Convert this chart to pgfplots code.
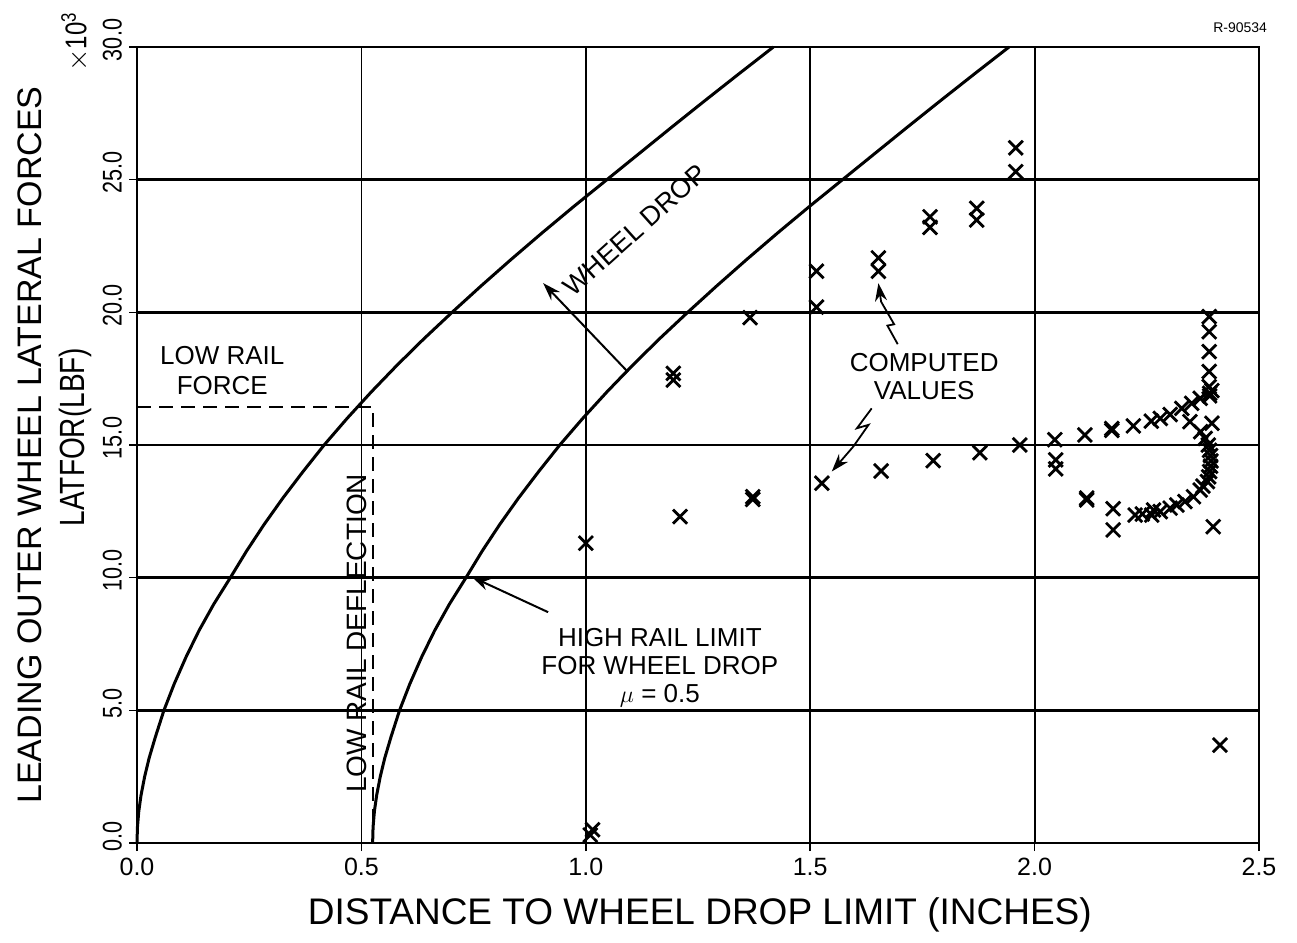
\documentclass[border=0pt]{standalone}
\usepackage{pgfplots}
\pgfplotsset{compat=1.18}
\usepackage{fontspec}
\setmainfont{Liberation Sans}
\newfontfamily\condfont[FakeStretch=0.8]{Liberation Sans}
\usetikzlibrary{arrows.meta}
\begin{document}
\begin{tikzpicture}
\begin{axis}[
  scale only axis, width=561pt, height=398pt,
  xmin=0, xmax=2.5, ymin=0, ymax=30,
  xtick={0,0.5,1,1.5,2,2.5}, ytick={0,5,10,15,20,25,30},
  xtick pos=bottom, ytick pos=left,
  grid=major, major x grid style={black, line width=0.9pt}, major y grid style={black, line width=1.2pt},
  axis line style={black, line width=1.1pt},
  tick align=outside, major tick length=4pt, tick style={black, line width=0.8pt},
  /pgf/number format/assume math mode=true,
  x tick label style={font=\fontsize{12.5}{12.5}\selectfont, /pgf/number format/.cd, fixed, fixed zerofill, precision=1, /tikz/.cd},
  y tick label style={yshift=3.5pt, rotate=90, anchor=south, font=\condfont\fontsize{13.5}{13.5}\selectfont, /pgf/number format/.cd, fixed, fixed zerofill, precision=1, /tikz/.cd},
  clip=false,
]
% wheel drop (left) curve
\addplot[black, line width=1.5pt] coordinates {
(0,0) (0.001,0.6) (0.004,1.2) (0.009,1.8) (0.017,2.5) (0.027,3.2) (0.041,4) (0.06,5)
(0.083,6) (0.109,7) (0.138,8) (0.171,9) (0.208,10) (0.244,11) (0.283,12) (0.325,13)
(0.37,14) (0.417,15) (0.468,16) (0.522,17) (0.579,18) (0.639,19) (0.702,20) (0.767,21)
(0.834,22) (0.903,23) (0.974,24) (1.047,25) (1.12,26) (1.193,27) (1.267,28) (1.342,29) (1.418,30)};
% high rail limit (right) curve
\addplot[black, line width=1.5pt] coordinates {
(0.525,0) (0.526,0.6) (0.529,1.2) (0.534,1.8) (0.542,2.5) (0.552,3.2) (0.566,4) (0.585,5)
(0.608,6) (0.634,7) (0.663,8) (0.696,9) (0.733,10) (0.769,11) (0.808,12) (0.85,13)
(0.895,14) (0.942,15) (0.993,16) (1.047,17) (1.104,18) (1.164,19) (1.227,20) (1.292,21)
(1.359,22) (1.428,23) (1.499,24) (1.572,25) (1.645,26) (1.718,27) (1.792,28) (1.867,29) (1.943,30)};
% dashed low rail lines
\addplot[black, line width=1pt, dash pattern=on 7pt off 4pt] coordinates {(0,16.43) (0.525,16.43) (0.525,0)};
% computed values
\addplot[only marks, mark=x, mark size=5pt, line width=1.4pt, black] coordinates {
(1.0,11.3) (1.01,0.3) (1.015,0.5)
(1.195,17.7) (1.195,17.45) (1.21,12.3)
(1.366,19.8) (1.372,12.95) (1.372,13.05)
(1.514,21.55) (1.514,20.2) (1.526,13.56)
(1.652,22.05) (1.652,21.55) (1.658,14.02)
(1.767,23.6) (1.767,23.2) (1.774,14.41)
(1.871,23.92) (1.871,23.48) (1.878,14.71)
(1.958,26.2) (1.958,25.3) (1.967,15.0)
(2.045,15.2) (2.047,14.44) (2.047,14.1)
(2.112,15.38) (2.116,12.93) (2.116,13.0)
(2.172,15.55) (2.172,15.62) (2.175,12.6) (2.175,11.8)
(2.22,15.72) (2.224,12.36)
(2.26,15.9) (2.28,16.0) (2.302,16.15) (2.328,16.38) (2.35,16.57) (2.369,16.76) (2.39,16.95) (2.395,17.05) (2.39,16.85)
(2.389,19.84) (2.389,19.27) (2.389,18.52) (2.389,17.77) (2.389,17.2)
(2.395,15.82)
(2.346,15.88) (2.37,15.5) (2.38,15.25) (2.387,15.0) (2.39,14.8) (2.392,14.6) (2.393,14.4) (2.392,14.2) (2.39,14.0) (2.388,13.8) (2.385,13.62) (2.375,13.45)
(2.369,13.3) (2.354,13.05) (2.335,12.87) (2.317,12.74) (2.302,12.62) (2.28,12.49) (2.265,12.55) (2.261,12.36) (2.24,12.4)
(2.398,11.92) (2.413,3.69)};
% annotations
\node[align=center, font=\fontsize{13}{15}\selectfont] at (axis cs:0.19,17.8) {LOW RAIL\\FORCE};
\node[rotate=90, font=\fontsize{14}{15}\selectfont] at (axis cs:0.49,7.9) {LOW RAIL DEFLECTION};
\node[rotate=42, font=\fontsize{13.5}{15}\selectfont] at (axis cs:1.11,23.1) {WHEEL DROP};
\draw[black, line width=1pt, -{Stealth[length=9pt,width=6pt]}] (axis cs:1.094,17.75) -- (axis cs:0.905,21.1);
\node[align=center, font=\fontsize{13}{14}\selectfont] at (axis cs:1.165,6.6) {HIGH RAIL LIMIT\\FOR WHEEL DROP\\$\mu$ = 0.5};
\draw[black, line width=1pt, -{Stealth[length=9pt,width=6pt]}] (axis cs:0.916,8.7) -- (axis cs:0.746,10.03);
\node[align=center, font=\fontsize{13}{14}\selectfont] at (axis cs:1.754,17.57) {COMPUTED\\VALUES};
\draw[black, line width=0.9pt, -{Stealth[length=9pt,width=6pt]}] (axis cs:1.695,18.8) -- (axis cs:1.672,19.5) -- (axis cs:1.687,19.55) -- (axis cs:1.658,20.4) -- (axis cs:1.652,21.1);
\draw[black, line width=0.9pt, -{Stealth[length=9pt,width=6pt]}] (axis cs:1.637,16.38) -- (axis cs:1.604,15.63) -- (axis cs:1.63,15.76) -- (axis cs:1.596,14.94) -- (axis cs:1.548,14.0);
% labels
\node[font=\fontsize{18.5}{18.5}\selectfont] at (axis cs:1.254,-2.71) {DISTANCE TO WHEEL DROP LIMIT (INCHES)};
\node[rotate=90, font=\fontsize{17}{17}\selectfont] at (axis cs:-0.238,15) {LEADING OUTER WHEEL LATERAL FORCES};
\node[rotate=90, font=\condfont\fontsize{17.5}{17.5}\selectfont] at (axis cs:-0.138,15.3) {LATFOR(LBF)};
\node[rotate=90, font=\condfont\fontsize{15}{15}\selectfont] at (axis cs:-0.138,30.2) {$\times$10\textsuperscript{3}};
\node[font=\fontsize{7}{7}\selectfont] at (axis cs:2.458,30.72) {R-90534};
\end{axis}
\pgfresetboundingbox
\path ([xshift=-68.5pt,yshift=-49.5pt]current axis.south west) rectangle ([xshift=19pt,yshift=23.5pt]current axis.north east);
\end{tikzpicture}
\end{document}
